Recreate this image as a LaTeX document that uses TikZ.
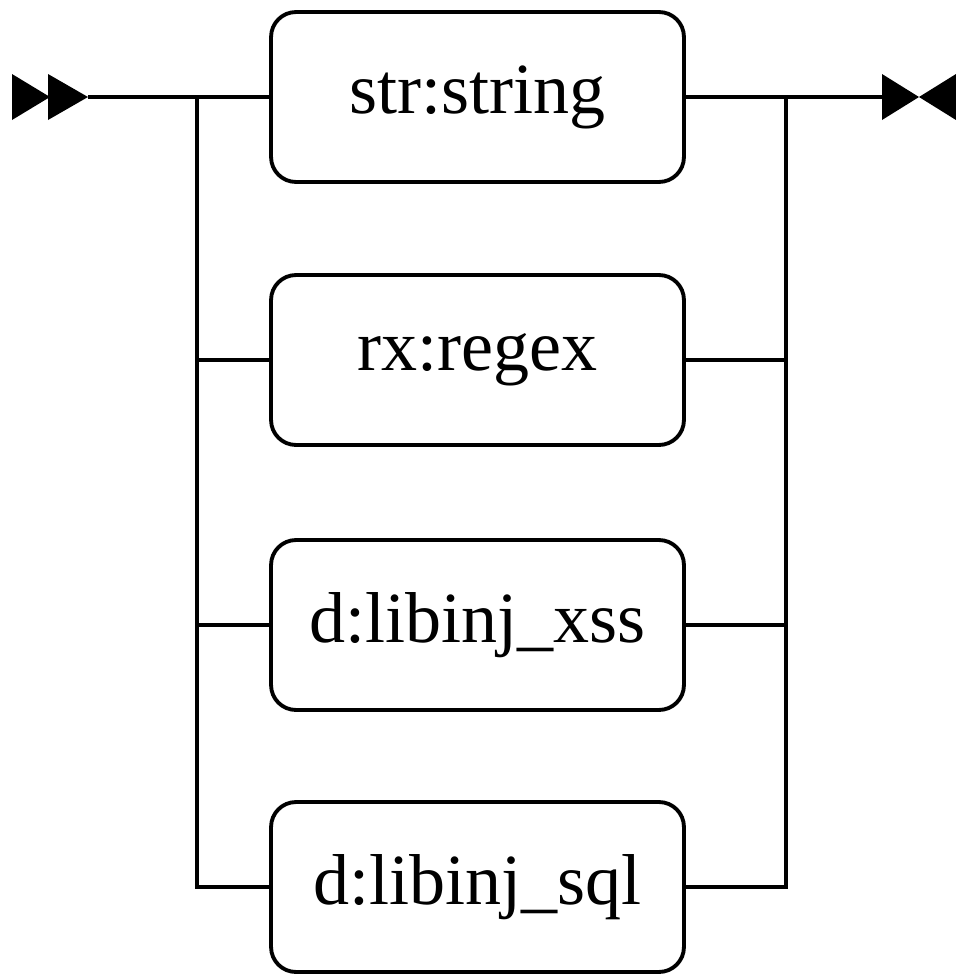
\documentclass[tikz,border=0pt]{standalone}
\usepackage{fontspec}
\setmainfont{Liberation Serif}
\begin{document}
\begin{tikzpicture}[x=0.02cm,y=-0.02cm,
  box/.style={draw,line width=2.2pt,rounded corners=0.5cm,
    minimum width=8.26cm,minimum height=3.4cm,inner sep=0pt,
    font=\fontsize{41}{48}\selectfont},
  wire/.style={line width=2.2pt},
  tip/.style={fill=black}]
\useasboundingbox (0,0) rectangle (956,974);

% alternatives
\node[box] (b1) at (477.5,97)  {str:string};
\node[box] (b2) at (477.5,360) {rx:regex};
\node[box] (b3) at (477.5,625) {d:libinj\_xss};
\node[box] (b4) at (477.5,887) {d:libinj\_sql};

% entry and exit points
\coordinate (start) at (88,97);
\coordinate (jl) at (197,97);
\coordinate (jr) at (786,97);
\coordinate (finish) at (882,97);

% start marker (double triangle)
\fill[tip] (12,74) -- (50,97) -- (12,120) -- cycle;
\fill[tip] (48,74) -- (88,97) -- (48,120) -- cycle;
% end marker (bow tie)
\fill[tip] (882,74) -- (919,97) -- (882,120) -- cycle;
\fill[tip] (956,74) -- (919,97) -- (956,120) -- cycle;

% main line
\draw[wire] (start) -- (b1.west);
\draw[wire] (b1.east) -- (finish);

% left branch bar
\draw[wire] (jl) |- (b4.west);
\draw[wire] (jl |- b2.west) -- (b2.west);
\draw[wire] (jl |- b3.west) -- (b3.west);

% right branch bar
\draw[wire] (jr) |- (b4.east);
\draw[wire] (jr |- b2.east) -- (b2.east);
\draw[wire] (jr |- b3.east) -- (b3.east);
\end{tikzpicture}
\end{document}
